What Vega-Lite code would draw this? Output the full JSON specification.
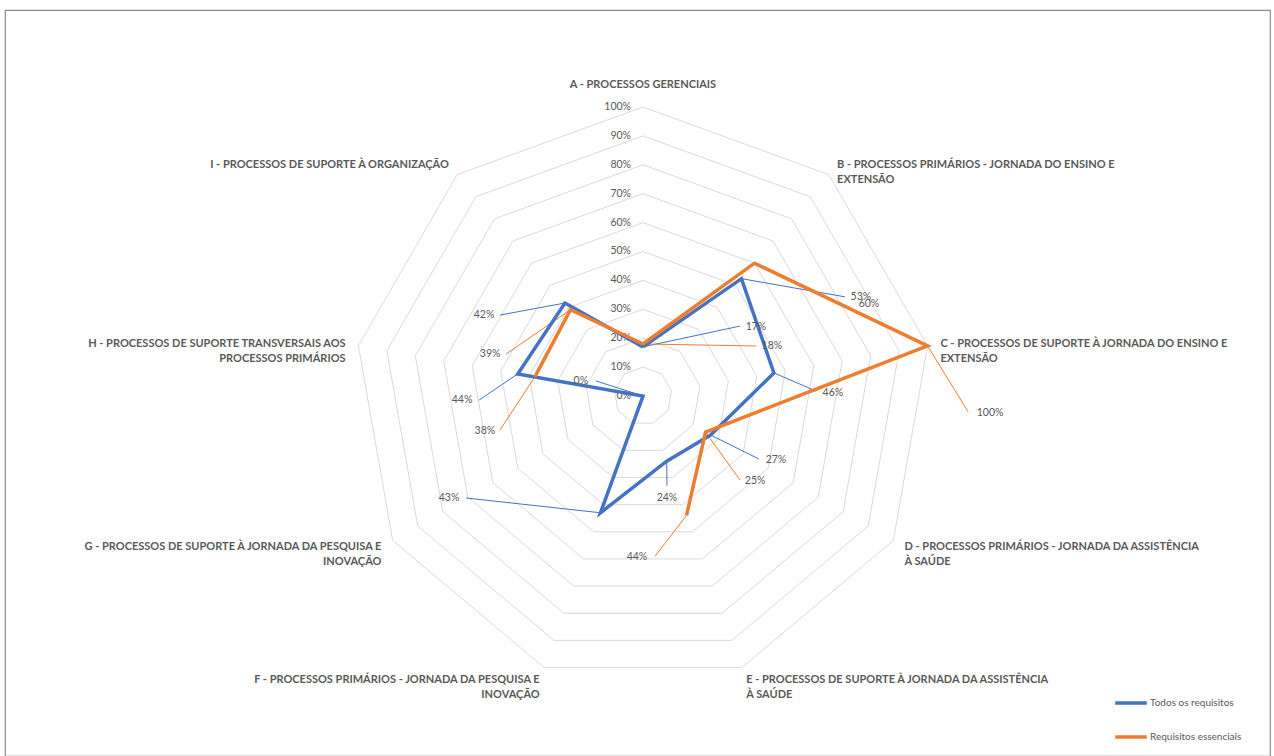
{
  "$schema": "https://vega.github.io/schema/vega-lite/v6.json",
  "width": 1274,
  "height": 756,
  "autosize": {"type": "fit", "contains": "padding"},
  "padding": {"left": 5, "top": 10, "right": 4, "bottom": 0},
  "background": "white",
  "view": {"stroke": "#8c8c8c", "strokeWidth": 1.2},
  "config": {"font": "Lato"},
  "datasets": {
    "rings": [
      {"i": 0, "levels": [10, 20, 30, 40, 50, 60, 70, 80, 90, 100]},
      {"i": 1, "levels": [10, 20, 30, 40, 50, 60, 70, 80, 90, 100]},
      {"i": 2, "levels": [10, 20, 30, 40, 50, 60, 70, 80, 90, 100]},
      {"i": 3, "levels": [10, 20, 30, 40, 50, 60, 70, 80, 90, 100]},
      {"i": 4, "levels": [10, 20, 30, 40, 50, 60, 70, 80, 90, 100]},
      {"i": 5, "levels": [10, 20, 30, 40, 50, 60, 70, 80, 90, 100]},
      {"i": 6, "levels": [10, 20, 30, 40, 50, 60, 70, 80, 90, 100]},
      {"i": 7, "levels": [10, 20, 30, 40, 50, 60, 70, 80, 90, 100]},
      {"i": 8, "levels": [10, 20, 30, 40, 50, 60, 70, 80, 90, 100]},
      {"i": 9, "levels": [10, 20, 30, 40, 50, 60, 70, 80, 90, 100]}
    ],
    "ticks": [
      {"lev": 0}, {"lev": 10}, {"lev": 20}, {"lev": 30}, {"lev": 40}, {"lev": 50},
      {"lev": 60}, {"lev": 70}, {"lev": 80}, {"lev": 90}, {"lev": 100}
    ],
    "cats": [
      {"i": 0, "name": ["A - PROCESSOS GERENCIAIS"]},
      {"i": 1, "name": ["B - PROCESSOS PRIMÁRIOS - JORNADA DO ENSINO E", "EXTENSÃO"]},
      {"i": 2, "name": ["C - PROCESSOS DE SUPORTE À JORNADA DO ENSINO E", "EXTENSÃO"]},
      {"i": 3, "name": ["D - PROCESSOS PRIMÁRIOS - JORNADA DA ASSISTÊNCIA", "À SAÚDE"]},
      {"i": 4, "name": ["E - PROCESSOS DE SUPORTE À JORNADA DA ASSISTÊNCIA", "À SAÚDE"]},
      {"i": 5, "name": ["F - PROCESSOS PRIMÁRIOS - JORNADA DA PESQUISA E", "INOVAÇÃO"]},
      {"i": 6, "name": ["G - PROCESSOS DE SUPORTE À JORNADA DA PESQUISA E", "INOVAÇÃO"]},
      {"i": 7, "name": ["H - PROCESSOS DE SUPORTE TRANSVERSAIS AOS", "PROCESSOS PRIMÁRIOS"]},
      {"i": 8, "name": ["I - PROCESSOS DE SUPORTE À ORGANIZAÇÃO"]}
    ],
    "series": [
      {"s": "Todos os requisitos", "i": 0, "v": 17},
      {"s": "Todos os requisitos", "i": 1, "v": 53},
      {"s": "Todos os requisitos", "i": 2, "v": 46},
      {"s": "Todos os requisitos", "i": 3, "v": 27},
      {"s": "Todos os requisitos", "i": 4, "v": 24},
      {"s": "Todos os requisitos", "i": 5, "v": 43},
      {"s": "Todos os requisitos", "i": 6, "v": 0},
      {"s": "Todos os requisitos", "i": 7, "v": 44},
      {"s": "Todos os requisitos", "i": 8, "v": 42},
      {"s": "Todos os requisitos", "i": 9, "v": 17},
      {"s": "Requisitos essenciais", "i": 0, "v": 18},
      {"s": "Requisitos essenciais", "i": 1, "v": 60},
      {"s": "Requisitos essenciais", "i": 2, "v": 100},
      {"s": "Requisitos essenciais", "i": 3, "v": 25},
      {"s": "Requisitos essenciais", "i": 4, "v": 44},
      {"s": "Requisitos essenciais", "i": 5, "v": null},
      {"s": "Requisitos essenciais", "i": 6, "v": null},
      {"s": "Requisitos essenciais", "i": 7, "v": 38},
      {"s": "Requisitos essenciais", "i": 8, "v": 39},
      {"s": "Requisitos essenciais", "i": 9, "v": 18}
    ],
    "labels": [
      {"s": "Todos os requisitos", "i": 0, "v": 17, "t": "17%", "lx": 39.1, "ly": 23.9, "ex": 33.6, "ey": 24.2},
      {"s": "Todos os requisitos", "i": 1, "v": 53, "t": "53%", "lx": 75.4, "ly": 34.3, "ex": 69.9, "ey": 34.3},
      {"s": "Todos os requisitos", "i": 2, "v": 46, "t": "46%", "lx": 65.7, "ly": 1.0, "ex": 59.9, "ey": 1.7},
      {"s": "Todos os requisitos", "i": 3, "v": 27, "t": "27%", "lx": 46.0, "ly": -22.1, "ex": 40.1, "ey": -21.8},
      {"s": "Todos os requisitos", "i": 4, "v": 24, "t": "24%", "lx": 8.3, "ly": -35.3, "ex": 8.3, "ey": -31.1},
      {"s": "Todos os requisitos", "i": 5, "v": 43, "t": "43%", "lx": -67.1, "ly": -35.3, "ex": -61.2, "ey": -35.3},
      {"s": "Todos os requisitos", "i": 6, "v": 0, "t": "0%", "lx": -21.5, "ly": 5.2, "ex": -16.3, "ey": 5.2},
      {"s": "Todos os requisitos", "i": 7, "v": 44, "t": "44%", "lx": -62.6, "ly": -1.4, "ex": -56.7, "ey": -1.4},
      {"s": "Todos os requisitos", "i": 8, "v": 42, "t": "42%", "lx": -55.0, "ly": 28.0, "ex": -49.5, "ey": 28.0},
      {"s": "Requisitos essenciais", "i": 0, "v": 18, "t": "18%", "lx": 44.6, "ly": 17.3, "ex": 39.1, "ey": 17.3},
      {"s": "Requisitos essenciais", "i": 1, "v": 60, "t": "60%", "lx": 78.2, "ly": 31.8, "ex": null, "ey": null},
      {"s": "Requisitos essenciais", "i": 2, "v": 100, "t": "100%", "lx": 120.1, "ly": -5.9, "ex": 112.5, "ey": -5.5},
      {"s": "Requisitos essenciais", "i": 3, "v": 25, "t": "25%", "lx": 38.8, "ly": -29.4, "ex": 33.6, "ey": -29.1},
      {"s": "Requisitos essenciais", "i": 4, "v": 44, "t": "44%", "lx": -2.1, "ly": -55.7, "ex": 4.2, "ey": -55.4},
      {"s": "Requisitos essenciais", "i": 7, "v": 38, "t": "38%", "lx": -54.7, "ly": -12.1, "ex": -49.5, "ey": -11.8},
      {"s": "Requisitos essenciais", "i": 8, "v": 39, "t": "39%", "lx": -52.9, "ly": 14.5, "ex": -47.4, "ey": 14.5}
    ]
  },
  "layer": [
    {
      "data": {"name": "rings"},
      "transform": [
        {"flatten": ["levels"], "as": ["lev"]},
        {"calculate": "datum.lev * sin(datum.i * 40 * PI / 180)", "as": "x"},
        {"calculate": "datum.lev * cos(datum.i * 40 * PI / 180)", "as": "y"}
      ],
      "mark": {"type": "line", "stroke": "#d9d9d9", "strokeWidth": 1},
      "encoding": {
        "x": {"field": "x", "type": "quantitative", "scale": {"domain": [-220.76, 216.96], "nice": false, "zero": false}, "axis": null},
        "y": {"field": "y", "type": "quantitative", "scale": {"domain": [-124.57, 133.56], "nice": false, "zero": false}, "axis": null},
        "detail": {"field": "lev", "type": "nominal"},
        "order": {"field": "i", "type": "quantitative"}
      }
    },
    {
      "data": {"name": "ticks"},
      "transform": [
        {"calculate": "0", "as": "x"},
        {"calculate": "datum.lev", "as": "y"},
        {"calculate": "datum.lev + '%'", "as": "t"}
      ],
      "mark": {"type": "text", "align": "right", "baseline": "middle", "dx": -12, "fontSize": 10.5, "color": "#595959"},
      "encoding": {
        "x": {"field": "x", "type": "quantitative"},
        "y": {"field": "y", "type": "quantitative"},
        "text": {"field": "t"}
      }
    },
    {
      "data": {"name": "cats"},
      "transform": [
        {"filter": "datum.i == 0"},
        {"calculate": "104.5 * sin(datum.i * 40 * PI / 180)", "as": "x"},
        {"calculate": "104.5 * cos(datum.i * 40 * PI / 180)", "as": "y"}
      ],
      "mark": {"type": "text", "align": "center", "baseline": "middle", "dy": -9, "fontSize": 11, "fontWeight": "bold", "color": "#595959", "lineHeight": 15},
      "encoding": {
        "x": {"field": "x", "type": "quantitative"},
        "y": {"field": "y", "type": "quantitative"},
        "text": {"field": "name"}
      }
    },
    {
      "data": {"name": "cats"},
      "transform": [
        {"filter": "datum.i >= 1 && datum.i <= 4"},
        {"calculate": "104.5 * sin(datum.i * 40 * PI / 180)", "as": "x"},
        {"calculate": "104.5 * cos(datum.i * 40 * PI / 180)", "as": "y"}
      ],
      "mark": {"type": "text", "align": "left", "baseline": "middle", "fontSize": 11, "fontWeight": "bold", "color": "#595959", "lineHeight": 15},
      "encoding": {
        "x": {"field": "x", "type": "quantitative"},
        "y": {"field": "y", "type": "quantitative"},
        "text": {"field": "name"}
      }
    },
    {
      "data": {"name": "cats"},
      "transform": [
        {"filter": "datum.i >= 5"},
        {"calculate": "104.5 * sin(datum.i * 40 * PI / 180)", "as": "x"},
        {"calculate": "104.5 * cos(datum.i * 40 * PI / 180)", "as": "y"}
      ],
      "mark": {"type": "text", "align": "right", "baseline": "middle", "fontSize": 11, "fontWeight": "bold", "color": "#595959", "lineHeight": 15},
      "encoding": {
        "x": {"field": "x", "type": "quantitative"},
        "y": {"field": "y", "type": "quantitative"},
        "text": {"field": "name"}
      }
    },
    {
      "data": {"name": "labels"},
      "transform": [
        {"filter": "datum.ex != null"},
        {"calculate": "datum.v * sin(datum.i * 40 * PI / 180)", "as": "x"},
        {"calculate": "datum.v * cos(datum.i * 40 * PI / 180)", "as": "y"}
      ],
      "mark": {"type": "rule", "strokeWidth": 1},
      "encoding": {
        "x": {"field": "x", "type": "quantitative"},
        "y": {"field": "y", "type": "quantitative"},
        "x2": {"field": "ex"},
        "y2": {"field": "ey"},
        "color": {"field": "s", "type": "nominal"}
      }
    },
    {
      "data": {"name": "series"},
      "transform": [
        {"calculate": "datum.v == null ? null : datum.v * sin(datum.i * 40 * PI / 180)", "as": "x"},
        {"calculate": "datum.v == null ? null : datum.v * cos(datum.i * 40 * PI / 180)", "as": "y"}
      ],
      "mark": {"type": "line", "strokeWidth": 3.5, "strokeJoin": "miter", "invalid": "break-paths-filter-domains"},
      "encoding": {
        "x": {"field": "x", "type": "quantitative"},
        "y": {"field": "y", "type": "quantitative"},
        "order": {"field": "i", "type": "quantitative"},
        "color": {
          "field": "s",
          "type": "nominal",
          "scale": {"domain": ["Todos os requisitos", "Requisitos essenciais"], "range": ["#4472C4", "#ED7D31"]},
          "legend": {
            "title": null,
            "orient": "none",
            "legendX": 1108,
            "legendY": 675,
            "symbolType": "stroke",
            "symbolStrokeWidth": 3.5,
            "symbolSize": 1000,
            "labelFontSize": 10,
            "labelColor": "#595959",
            "labelOffset": 1,
            "rowPadding": 9
          }
        }
      }
    },
    {
      "data": {"name": "labels"},
      "mark": {"type": "text", "align": "center", "baseline": "middle", "fontSize": 10.5, "color": "#595959"},
      "encoding": {
        "x": {"field": "lx", "type": "quantitative"},
        "y": {"field": "ly", "type": "quantitative"},
        "text": {"field": "t"}
      }
    }
  ]
}
